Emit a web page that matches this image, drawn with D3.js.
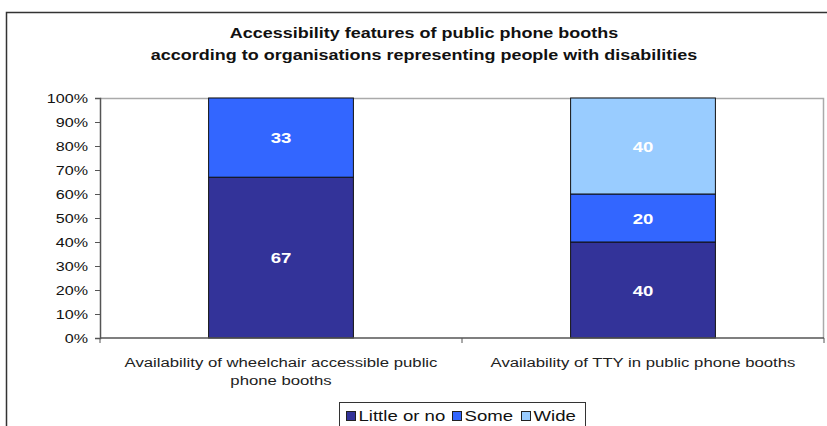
<!DOCTYPE html>
<html>
<head>
<meta charset="utf-8">
<script src="https://cdn.jsdelivr.net/npm/d3@7"></script>
<style>
  html, body { margin: 0; padding: 0; background: #fff; }
  svg { display: block; font-family: "Liberation Sans", Arial, sans-serif; }
</style>
</head>
<body>
<svg id="chart" width="827" height="426"></svg>
<script>
// Survey results: share of organisations rating each feature
const categories = [
  ["Availability of wheelchair accessible public", "phone booths"],
  ["Availability of TTY in public phone booths"]
];
const seriesNames = ["Little or no", "Some", "Wide"];
const littleOrNo = [67, 40];
const some = [33, 20];
const wide = [0, 40];
const yTicks = [0, 10, 20, 30, 40, 50, 60, 70, 80, 90, 100];
const titleLines = [
  "Accessibility features of public phone booths",
  "according to organisations representing people with disabilities"
];
const colors = ["#333399", "#3366FF", "#99CCFF"];

// the chart's lettering is set slightly wide
const SX = 1.24;
function placeText(sel, fx, fy) {
  sel.attr("x", 0).attr("y", 0)
    .attr("transform", (d, i) => `translate(${fx(d, i)},${fy(d, i)}) scale(${SX},1)`);
  return sel;
}

const svg = d3.select("#chart");
const margin = { left: 100, top: 98, right: 824, bottom: 338 };

// outer chart frame
svg.append("path")
  .attr("d", "M6.5,440 V12.5 H840")
  .attr("fill", "none")
  .attr("stroke", "#333")
  .attr("stroke-width", 1.5);

// title
placeText(svg.append("g").selectAll("text").data(titleLines).join("text"),
    () => 424, (d, i) => 38 + i * 21.5)
  .attr("text-anchor", "middle")
  .attr("font-size", 14.5)
  .attr("font-weight", "bold")
  .attr("fill", "#111")
  .text(d => d);

const x = d3.scaleBand()
  .domain(d3.range(categories.length))
  .range([margin.left, margin.right])
  .paddingInner(0)
  .paddingOuter(0);

const y = d3.scaleLinear().domain([0, 100]).range([margin.bottom, margin.top]);

// plot area border (top and right in gray)
svg.append("path")
  .attr("d", `M${margin.left},${margin.top + 0.5} H${margin.right - 0.5} V${margin.bottom}`)
  .attr("fill", "none")
  .attr("stroke", "#aaa")
  .attr("stroke-width", 1.5);

// stacked data
const rows = categories.map((c, i) => ({ idx: i, "Little or no": littleOrNo[i], "Some": some[i], "Wide": wide[i] }));
const stacked = d3.stack().keys(seriesNames)(rows);

const barW = x.bandwidth() * 0.4;

const layers = svg.append("g").selectAll("g").data(stacked).join("g")
  .attr("fill", (d, i) => colors[i]);

layers.selectAll("rect").data(d => d.filter(s => s[1] - s[0] > 0)).join("rect")
  .attr("x", d => x(d.data.idx) + (x.bandwidth() - barW) / 2)
  .attr("y", d => y(d[1]))
  .attr("width", barW)
  .attr("height", d => y(d[0]) - y(d[1]))
  .attr("stroke", "#111")
  .attr("stroke-width", 1);

placeText(layers.selectAll("text").data(d => d.filter(s => s[1] - s[0] > 0)).join("text"),
    d => x(d.data.idx) + x.bandwidth() / 2,
    d => (y(d[0]) + y(d[1])) / 2 + 5.5)
  .attr("text-anchor", "middle")
  .attr("font-size", 15)
  .attr("font-weight", "bold")
  .attr("fill", "#fff")
  .text(d => d[1] - d[0]);

// y axis
const yAxis = svg.append("g")
  .attr("transform", `translate(${margin.left},0)`)
  .call(d3.axisLeft(y).tickValues(yTicks).tickSize(5).tickPadding(5).tickFormat(d => d + "%"));
yAxis.select(".domain").attr("stroke", "#555").attr("stroke-width", 1.5);
yAxis.selectAll(".tick line").attr("stroke", "#555");
yAxis.selectAll(".tick text")
  .attr("x", -12 / SX)
  .attr("dy", "0.35em")
  .attr("transform", `scale(${SX},1)`)
  .attr("font-size", 13).attr("fill", "#111")
  .attr("font-family", "'Liberation Sans', Arial, sans-serif");

// x axis
const xAxis = svg.append("g")
  .attr("transform", `translate(0,${margin.bottom})`);
xAxis.append("line")
  .attr("x1", margin.left).attr("x2", margin.right)
  .attr("stroke", "#555").attr("stroke-width", 1.5);
xAxis.selectAll("line.tk").data(d3.range(categories.length + 1)).join("line")
  .attr("class", "tk")
  .attr("x1", d => margin.left + d * x.bandwidth())
  .attr("x2", d => margin.left + d * x.bandwidth())
  .attr("y1", 0).attr("y2", 5)
  .attr("stroke", "#555");

const catLines = categories.flatMap((c, i) => c.map((line, j) => ({ line, i, j })));
placeText(xAxis.selectAll("text").data(catLines).join("text"),
    d => x(d.i) + x.bandwidth() / 2,
    d => 28.5 + d.j * 18)
  .attr("text-anchor", "middle")
  .attr("font-size", 13.5)
  .attr("fill", "#222")
  .text(d => d.line);

// legend
const legend = svg.append("g");
legend.append("rect")
  .attr("x", 339.5).attr("y", 402.5)
  .attr("width", 246).attr("height", 40)
  .attr("fill", "#fff").attr("stroke", "#333");
const items = [
  { name: seriesNames[0], x: 346 },
  { name: seriesNames[1], x: 452 },
  { name: seriesNames[2], x: 521 }
];
const li = legend.selectAll("g").data(items).join("g")
  .attr("transform", d => `translate(${d.x},0)`);
li.append("rect")
  .attr("x", 0.5).attr("y", 411.5)
  .attr("width", 9).attr("height", 9)
  .attr("fill", (d, i) => colors[i])
  .attr("stroke", "#222");
placeText(li.append("text"), () => 12.5, () => 420.5)
  .attr("font-size", 15)
  .attr("fill", "#111")
  .text(d => d.name);
</script>
</body>
</html>
